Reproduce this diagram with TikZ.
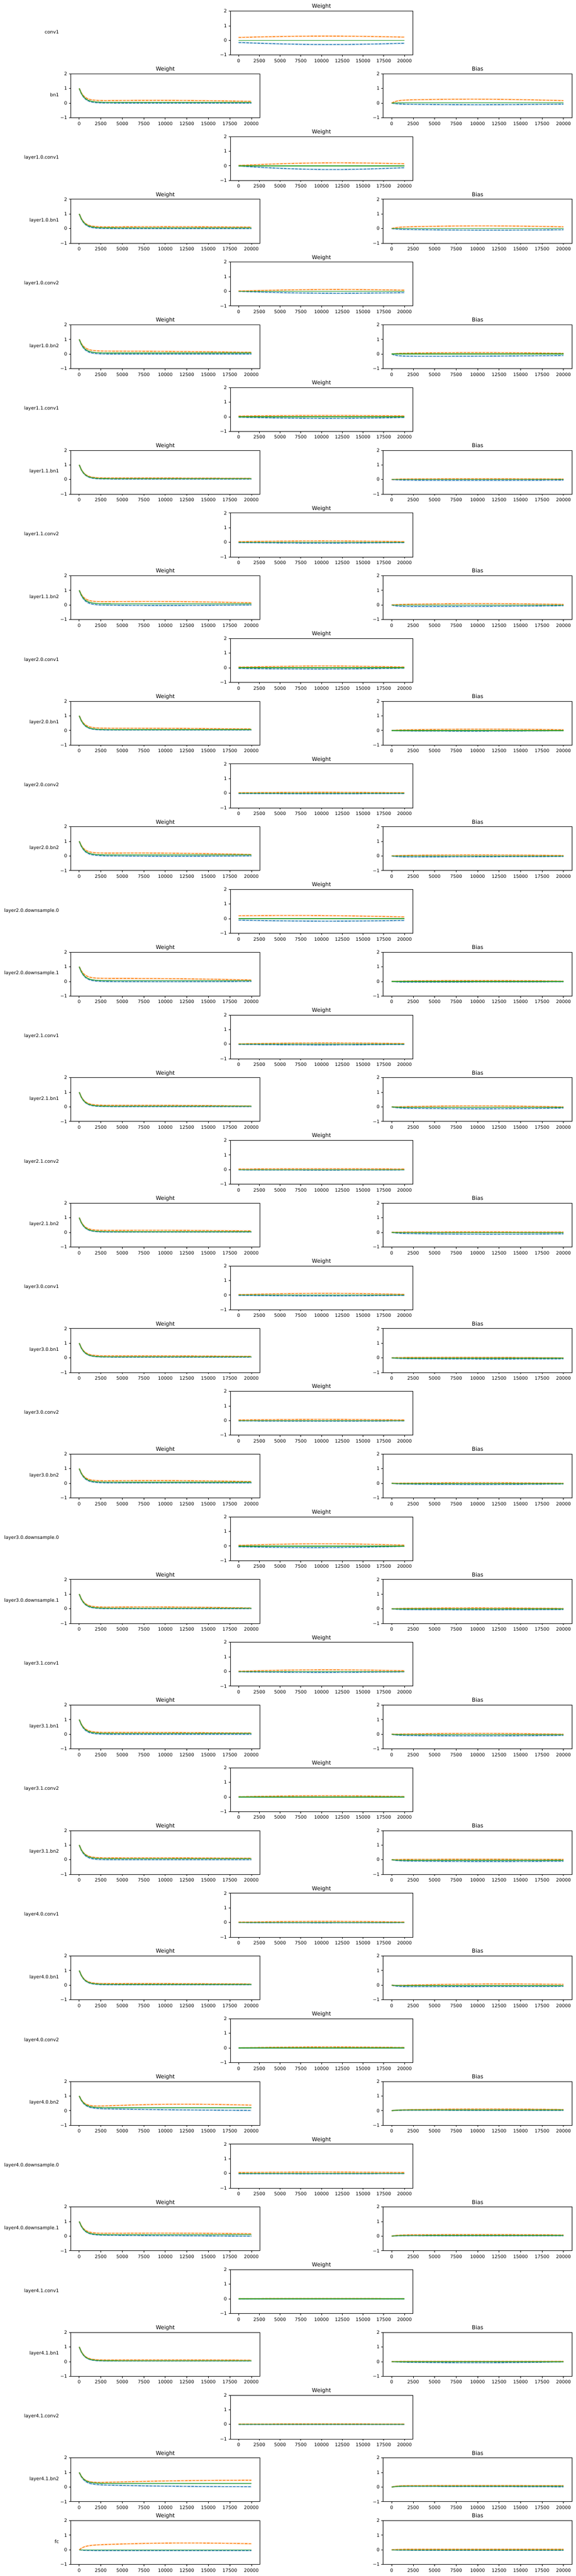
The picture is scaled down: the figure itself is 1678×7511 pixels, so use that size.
\documentclass[tikz,border=0pt]{standalone}
\usepackage{fontspec}
\setmainfont{DejaVu Sans}
\usepackage{tikz}

\definecolor{C0}{RGB}{31,119,180}
\definecolor{C1}{RGB}{255,127,14}
\definecolor{C2}{RGB}{44,160,44}

\tikzset{
	spine/.style={black, line width=0.8pt},
	tickmark/.style={black, line width=0.8pt},
	ticklabel/.style={font=\fontsize{9.7}{11}\selectfont, inner sep=0pt},
	paneltitle/.style={font=\fontsize{11.4}{13}\selectfont, inner sep=0pt, anchor=base},
	layerlabel/.style={font=\fontsize{9.8}{11}\selectfont, inner sep=0pt, anchor=base east},
	maxline/.style={C1, line width=1.5pt, dash pattern=on 5.55pt off 2.4pt,
		preaction={draw, C1, solid, line width=3.6pt, opacity=0.2}},
	minline/.style={C0, line width=1.5pt, dash pattern=on 5.55pt off 2.4pt,
		preaction={draw, C0, solid, line width=3.6pt, opacity=0.2}},
	meanline/.style={C2, line width=1.5pt},
	meanband/.style={fill=C0, fill opacity=0.15},
}

% iteration (x1000) / decay exp(-x/0.55) / hump sin(9x)
\def\grid{0/1/0,0.25/0.6348/0.0393,0.5/0.4029/0.0785,0.75/0.2557/0.1175,1/0.1623/0.1564,1.25/0.103/0.1951,1.5/0.0654/0.2334,2/0.0263/0.309,2.5/0.0106/0.3827,3/0.0043/0.454,4/0.0007/0.5878,5/0/0.7071,6/0/0.809,7/0/0.891,8/0/0.9511,9/0/0.9877,10/0/1,11/0/0.9877,12/0/0.9511,13/0/0.891,14/0/0.809,15/0/0.7071,16/0/0.5878,17/0/0.454,18/0/0.309,19/0/0.1564,20/0/0}
\def\gridback{20/0/0,19/0/0.1564,18/0/0.309,17/0/0.454,16/0/0.5878,15/0/0.7071,14/0/0.809,13/0/0.891,12/0/0.9511,11/0/0.9877,10/0/1,9/0/0.9877,8/0/0.9511,7/0/0.891,6/0/0.809,5/0/0.7071,4/0.0007/0.5878,3/0.0043/0.454,2.5/0.0106/0.3827,2/0.0263/0.309,1.5/0.0654/0.2334,1.25/0.103/0.1951,1/0.1623/0.1564,0.75/0.2557/0.1175,0.5/0.4029/0.0785,0.25/0.6348/0.0393,0/1/0}

% style, start, plateau start, hump, plateau end
\newcommand{\trace}[5]{%
	\draw[#1] (0,#2) \foreach \x/\d/\s in \grid {
		-- (\x, {(#2)*\d+(1-\d)*((#3)+((#5)-(#3))*\x/20+(#4)*\s)}) };
}
% start, mean, half width
\newcommand{\band}[3]{%
	\fill[meanband] (0,#1) \foreach \x/\d/\s in \grid {
		-- (\x, {(#1)*\d+(1-\d)*((#2)+(#3))}) }
		\foreach \x/\d/\s in \gridback {
		-- (\x, {(#1)*\d+(1-\d)*((#2)-(#3))}) } -- cycle;
}
% start, max (s,h,e), mean, min (s,h,e), band
\newcommand{\runs}[9]{%
	\band{#1}{#5}{#9}
	\trace{minline}{#1}{#6}{#7}{#8}
	\trace{maxline}{#1}{#2}{#3}{#4}
	\trace{meanline}{#1}{#5}{0}{#5}
}
\newcommand{\convruns}[6]{%
	\band{0}{0}{0.02}
	\trace{minline}{#4}{#4}{#5}{#6}
	\trace{maxline}{#1}{#1}{#2}{#3}
	\trace{meanline}{0}{0}{0}{0}
}

% left, width, row, title, curves
\newcommand{\panel}[5]{%
	\pgfmathsetmacro\axT{32.3+182.925*#3}
	\pgfmathsetmacro\axU{#2/22}
	\pgfmathsetmacro\axX{\axU*0.72}
	\draw[spine] (#1,\axT) rectangle ++(#2,128);
	\node[paneltitle, at={({#1+#2/2},{\axT-8.3})}] (title#3-#1) {#4};
	\foreach \k/\tv in {0/0,1/2500,2/5000,3/7500,4/10000,5/12500,6/15000,7/17500,8/20000} {
		\pgfmathsetmacro\tx{#1+\axU*(1+2.5*\k)}
		\draw[tickmark] (\tx,\axT+128) -- ++(0,4.86);
		\node[ticklabel, anchor=north, at={(\tx,\axT+139.7)}] (xt#3-#1-\k) {\tv};
	}
	\foreach \v/\t in {2/2,1/1,0/0,-1/−1} {
		\draw[tickmark] (#1,{\axT+85.33-42.667*(\v)}) -- ++(-4.86,0);
		\node[ticklabel, anchor=east, at={({#1-9.9},{\axT+85.33-42.667*(\v)})}] (yt#3-#1-\t) {\t};
	}
	\begin{scope}[shift={({#1+\axU},{\axT+85.33})}, x=\axX pt, y=30.72pt]
		#5
	\end{scope}
}
\newcommand{\wpanel}[2]{\panel{206}{552}{#1}{Weight}{#2}}
\newcommand{\bpanel}[2]{\panel{1117}{551}{#1}{Bias}{#2}}
\newcommand{\cpanel}[2]{\panel{671.5}{532}{#1}{Weight}{#2}}
\newcommand{\layername}[2]{\node[layerlabel, at={(172,{32.3+182.925*#1+65.8})}] (layer#1) {#2};}

\begin{document}
\begin{tikzpicture}[x=0.72pt, y=-0.72pt]

	\useasboundingbox (0,0) rectangle (1678,7511);

	\layername{0}{conv1}
	\cpanel{0}{\convruns{0.2}{0.08}{0.22}{-0.15}{-0.11}{-0.2}}

	\layername{1}{bn1}
	\wpanel{1}{\runs{1}{0.15}{0.05}{0.12}{0.05}{0.0}{0}{0.0}{0.03}}
	\bpanel{1}{\runs{0}{0.2}{0.08}{0.17}{0.02}{-0.07}{-0.04}{-0.07}{0.03}}

	\layername{2}{layer1.0.conv1}
	\cpanel{2}{\convruns{0.03}{0.115}{0.14}{-0.02}{-0.175}{-0.13}}

	\layername{3}{layer1.0.bn1}
	\wpanel{3}{\runs{1}{0.1}{0.03}{0.1}{0.05}{0.0}{0}{0.0}{0.03}}
	\bpanel{3}{\runs{0}{0.1}{0.07}{0.12}{0.0}{-0.05}{-0.04}{-0.08}{0.02}}

	\layername{4}{layer1.0.conv2}
	\cpanel{4}{\convruns{0.02}{0.07}{0.08}{-0.01}{-0.08}{-0.09}}

	\layername{5}{layer1.0.bn2}
	\wpanel{5}{\runs{1}{0.2}{0.02}{0.12}{0.07}{0.0}{0}{0.0}{0.03}}
	\bpanel{5}{\runs{0}{0.05}{0.05}{0.05}{0.0}{-0.15}{-0.02}{-0.1}{0.02}}

	\layername{6}{layer1.1.conv1}
	\cpanel{6}{\convruns{0.05}{0.04}{0.06}{-0.03}{-0.07}{-0.05}}

	\layername{7}{layer1.1.bn1}
	\wpanel{7}{\runs{1}{0.1}{0.01}{0.08}{0.06}{0.03}{0}{0.03}{0.02}}
	\bpanel{7}{\runs{0}{0.03}{0.02}{0.03}{0.0}{-0.04}{-0.02}{-0.04}{0.02}}

	\layername{8}{layer1.1.conv2}
	\cpanel{8}{\convruns{0.04}{0.05}{0.04}{-0.02}{-0.04}{-0.02}}

	\layername{9}{layer1.1.bn2}
	\wpanel{9}{\runs{1}{0.2}{0.06}{0.15}{0.08}{0.0}{-0.03}{0.0}{0.03}}
	\bpanel{9}{\runs{0}{0.03}{0.06}{0.04}{0.0}{-0.1}{-0.02}{-0.05}{0.02}}

	\layername{10}{layer2.0.conv1}
	\cpanel{10}{\convruns{0.04}{0.07}{0.05}{-0.05}{-0.05}{-0.03}}

	\layername{11}{layer2.0.bn1}
	\wpanel{11}{\runs{1}{0.15}{0.02}{0.1}{0.06}{0.03}{0}{0.03}{0.02}}
	\bpanel{11}{\runs{0}{0.03}{0.05}{0.05}{0.0}{-0.03}{-0.02}{-0.02}{0.02}}

	\layername{12}{layer2.0.conv2}
	\cpanel{12}{\convruns{0.03}{0.03}{0.03}{-0.02}{-0.02}{-0.02}}

	\layername{13}{layer2.0.bn2}
	\wpanel{13}{\runs{1}{0.18}{0.05}{0.1}{0.07}{0.02}{-0.03}{0.0}{0.03}}
	\bpanel{13}{\runs{0}{0.03}{0.04}{0.03}{0.0}{-0.07}{0}{-0.04}{0.02}}

	\layername{14}{layer2.0.downsample.0}
	\cpanel{14}{\convruns{0.2}{0.05}{0.12}{-0.1}{-0.06}{-0.12}}

	\layername{15}{layer2.0.downsample.1}
	\wpanel{15}{\runs{1}{0.2}{0.04}{0.1}{0.05}{0.0}{-0.02}{0.0}{0.03}}
	\bpanel{15}{\runs{0}{0.02}{0.04}{0.02}{0.0}{-0.05}{0}{-0.03}{0.02}}

	\layername{16}{layer2.1.conv1}
	\cpanel{16}{\convruns{0.02}{0.05}{0.04}{-0.02}{-0.03}{-0.02}}

	\layername{17}{layer2.1.bn1}
	\wpanel{17}{\runs{1}{0.1}{0.03}{0.06}{0.05}{0.02}{0}{0.02}{0.02}}
	\bpanel{17}{\runs{0}{0.0}{0.07}{0.0}{-0.03}{-0.08}{-0.05}{-0.08}{0.02}}

	\layername{18}{layer2.1.conv2}
	\cpanel{18}{\convruns{0.04}{0.02}{0.04}{-0.02}{-0.01}{-0.02}}

	\layername{19}{layer2.1.bn2}
	\wpanel{19}{\runs{1}{0.12}{0.03}{0.1}{0.05}{0.02}{0}{0.02}{0.02}}
	\bpanel{19}{\runs{0}{0.02}{0.01}{0.02}{-0.02}{-0.07}{-0.04}{-0.1}{0.02}}

	\layername{20}{layer3.0.conv1}
	\cpanel{20}{\convruns{0.03}{0.08}{0.05}{-0.02}{-0.03}{-0.02}}

	\layername{21}{layer3.0.bn1}
	\wpanel{21}{\runs{1}{0.13}{0.02}{0.1}{0.07}{0.05}{0}{0.05}{0.02}}
	\bpanel{21}{\runs{0}{0.02}{0.02}{0.0}{-0.02}{-0.05}{-0.02}{-0.07}{0.02}}

	\layername{22}{layer3.0.conv2}
	\cpanel{22}{\convruns{0.04}{0.04}{0.04}{-0.02}{-0.02}{-0.02}}

	\layername{23}{layer3.0.bn2}
	\wpanel{23}{\runs{1}{0.15}{0.05}{0.12}{0.08}{0.03}{0}{0.03}{0.02}}
	\bpanel{23}{\runs{0}{0.0}{0.04}{0.0}{-0.02}{-0.05}{-0.03}{-0.05}{0.02}}

	\layername{24}{layer3.0.downsample.0}
	\cpanel{24}{\convruns{0.05}{0.1}{0.06}{-0.05}{-0.07}{-0.02}}

	\layername{25}{layer3.0.downsample.1}
	\wpanel{25}{\runs{1}{0.1}{0.05}{0.05}{0.04}{0.01}{0}{0.01}{0.02}}
	\bpanel{25}{\runs{0}{0.02}{0.04}{0.02}{-0.01}{-0.05}{-0.02}{-0.05}{0.02}}

	\layername{26}{layer3.1.conv1}
	\cpanel{26}{\convruns{0.02}{0.08}{0.05}{-0.02}{-0.04}{-0.02}}

	\layername{27}{layer3.1.bn1}
	\wpanel{27}{\runs{1}{0.12}{0.02}{0.08}{0.06}{0.0}{0}{0.0}{0.02}}
	\bpanel{27}{\runs{0}{0.0}{0.06}{0.0}{-0.03}{-0.08}{-0.03}{-0.08}{0.02}}

	\layername{28}{layer3.1.conv2}
	\cpanel{28}{\convruns{0.02}{0.06}{0.03}{-0.01}{-0.01}{-0.01}}

	\layername{29}{layer3.1.bn2}
	\wpanel{29}{\runs{1}{0.12}{0.02}{0.1}{0.07}{0.0}{0}{0.0}{0.02}}
	\bpanel{29}{\runs{0}{0.02}{0.01}{0.02}{-0.04}{-0.08}{-0.03}{-0.1}{0.02}}

	\layername{30}{layer4.0.conv1}
	\cpanel{30}{\convruns{0.02}{0.05}{0.03}{-0.01}{-0.01}{-0.01}}

	\layername{31}{layer4.0.bn1}
	\wpanel{31}{\runs{1}{0.1}{0.02}{0.08}{0.06}{0.03}{0}{0.03}{0.02}}
	\bpanel{31}{\runs{0}{-0.02}{0.06}{0.06}{-0.03}{-0.1}{0}{-0.08}{0.02}}

	\layername{32}{layer4.0.conv2}
	\cpanel{32}{\convruns{0.01}{0.05}{0.03}{-0.01}{0}{-0.01}}

	\layername{33}{layer4.0.bn2}
	\wpanel{33}{\runs{1}{0.25}{0.12}{0.38}{0.2}{0.15}{-0.02}{0.02}{0.05}}
	\bpanel{33}{\runs{0}{0.05}{0.05}{0.08}{0.05}{0.03}{0}{0.02}{0.02}}

	\layername{34}{layer4.0.downsample.0}
	\cpanel{34}{\convruns{0.06}{0.03}{0.06}{-0.02}{-0.01}{-0.01}}

	\layername{35}{layer4.0.downsample.1}
	\wpanel{35}{\runs{1}{0.18}{0.03}{0.17}{0.1}{0.07}{0}{0.0}{0.03}}
	\bpanel{35}{\runs{0}{0.08}{0.03}{0.08}{0.05}{0.03}{0}{0.02}{0.02}}

	\layername{36}{layer4.1.conv1}
	\cpanel{36}{\convruns{0.02}{0.01}{0.02}{-0.01}{0}{-0.01}}

	\layername{37}{layer4.1.bn1}
	\wpanel{37}{\runs{1}{0.1}{0.02}{0.1}{0.06}{0.04}{0}{0.04}{0.02}}
	\bpanel{37}{\runs{0}{0.02}{0}{0.02}{-0.01}{-0.03}{-0.05}{-0.02}{0.02}}

	\layername{38}{layer4.1.conv2}
	\cpanel{38}{\convruns{0.02}{0.01}{0.02}{-0.01}{0}{-0.01}}

	\layername{39}{layer4.1.bn2}
	\wpanel{39}{\runs{1}{0.27}{0.05}{0.47}{0.25}{0.18}{-0.04}{0.03}{0.05}}
	\bpanel{39}{\runs{0}{0.1}{0.01}{0.1}{0.07}{0.06}{0}{0.02}{0.03}}

	\layername{40}{fc}
	\wpanel{40}{\runs{0}{0.3}{0.1}{0.42}{0.0}{-0.05}{0}{-0.05}{0.02}}
	\bpanel{40}{\runs{0}{0.04}{0}{0.04}{0.0}{-0.03}{0}{-0.03}{0.02}}

\end{tikzpicture}
\end{document}
